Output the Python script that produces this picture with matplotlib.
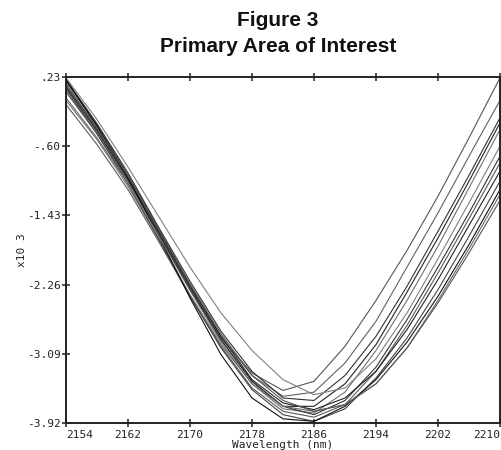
import matplotlib
matplotlib.use("Agg")
import matplotlib.pyplot as plt

wavelength = [2154, 2158, 2162, 2166, 2170, 2174, 2178, 2182, 2186, 2190, 2194, 2198, 2202, 2206, 2210]

curve_a = [0.05, -0.45, -1.02, -1.65, -2.30, -2.90, -3.32, -3.53, -3.42, -3.00, -2.45, -1.85, -1.20, -0.50, 0.22]
curve_b = [0.15, -0.38, -0.97, -1.62, -2.28, -2.88, -3.35, -3.60, -3.55, -3.20, -2.70, -2.05, -1.40, -0.72, -0.05]
curve_c = [0.20, -0.33, -0.92, -1.58, -2.22, -2.82, -3.30, -3.62, -3.65, -3.35, -2.88, -2.28, -1.62, -0.95, -0.26]
curve_d = [0.10, -0.42, -1.00, -1.66, -2.32, -2.92, -3.42, -3.72, -3.72, -3.45, -2.98, -2.35, -1.70, -1.02, -0.32]
curve_e = [-0.05, -0.52, -1.08, -1.72, -2.38, -2.98, -3.45, -3.75, -3.80, -3.55, -3.05, -2.45, -1.80, -1.10, -0.40]
curve_f = [0.22, -0.28, -0.85, -1.45, -2.05, -2.60, -3.05, -3.40, -3.58, -3.50, -3.15, -2.60, -1.95, -1.28, -0.60]
curve_g = [0.12, -0.40, -0.98, -1.63, -2.30, -2.92, -3.42, -3.72, -3.82, -3.65, -3.25, -2.68, -2.05, -1.40, -0.72]
curve_h = [-0.10, -0.58, -1.12, -1.75, -2.40, -3.00, -3.50, -3.78, -3.85, -3.70, -3.30, -2.75, -2.12, -1.47, -0.80]
curve_i = [0.18, -0.35, -0.95, -1.60, -2.27, -2.88, -3.40, -3.68, -3.76, -3.62, -3.30, -2.80, -2.20, -1.55, -0.90]
curve_j = [0.08, -0.45, -1.05, -1.72, -2.40, -3.02, -3.52, -3.82, -3.90, -3.75, -3.38, -2.90, -2.32, -1.68, -1.02]
curve_k = [0.20, -0.36, -0.98, -1.68, -2.42, -3.10, -3.62, -3.87, -3.90, -3.72, -3.40, -2.95, -2.40, -1.78, -1.12]
curve_l = [-0.02, -0.50, -1.05, -1.68, -2.33, -2.95, -3.45, -3.72, -3.78, -3.70, -3.45, -3.02, -2.45, -1.83, -1.18]
curve_m = [0.14, -0.38, -0.96, -1.60, -2.25, -2.85, -3.35, -3.65, -3.78, -3.70, -3.45, -3.02, -2.48, -1.88, -1.25]

curves = [curve_a, curve_b, curve_c, curve_d, curve_e, curve_f, curve_g,
          curve_h, curve_i, curve_j, curve_k, curve_l, curve_m]
line_colors = ["#555555", "#606060", "#333333", "#222222", "#707070", "#808080", "#333333",
               "#5a5a5a", "#222222", "#444444", "#111111", "#6a6a6a", "#555555"]

x_ticks = [2154, 2162, 2170, 2178, 2186, 2194, 2202, 2210]
x_tick_labels = ["2154", "2162", "2170", "2178", "2186", "2194", "2202", "2210"]
y_ticks = [0.23, -0.60, -1.43, -2.26, -3.09, -3.92]
y_tick_labels = [".23", "-.60", "-1.43", "-2.26", "-3.09", "-3.92"]

fig = plt.figure(figsize=(5.01, 4.5), dpi=100)
ax = fig.add_axes([66 / 501, 1 - 423 / 450, 434 / 501, 346 / 450])

for ys, c in zip(curves, line_colors):
    ax.plot(wavelength, ys, color=c, lw=0.8)

ax.set_xlim(2154, 2210)
ax.set_ylim(-3.92, 0.23)

mono = "DejaVu Sans Mono"
ax.set_xticks(x_ticks)
ax.set_xticklabels(x_tick_labels, family=mono, fontsize=8, color="#222222")
labs = ax.get_xticklabels()
labs[0].set_ha("left")
labs[-1].set_ha("right")
ax.set_yticks(y_ticks)
ax.set_yticklabels(y_tick_labels, family=mono, fontsize=8, color="#222222")

ax.tick_params(direction="inout", length=6, width=1.1, color="#222222", pad=1,
               top=True, right=False)
ax.tick_params(axis="x", pad=2)
for s in ax.spines.values():
    s.set_linewidth(1.4)
    s.set_color("#222222")

ax.set_xlabel("Wavelength (nm)", family=mono, fontsize=8, color="#222222", labelpad=0)
ax.set_ylabel("x10 3", family=mono, fontsize=8, color="#222222", labelpad=0)

fig.text(278 / 501, 1 - 20 / 450, "Figure 3", ha="center", va="center",
         family="Liberation Sans", fontweight="bold", fontsize=15, color="#111111")
fig.text(278 / 501, 1 - 47 / 450, "Primary Area of Interest", ha="center", va="center",
         family="Liberation Sans", fontweight="bold", fontsize=15, color="#111111")

fig.savefig("out.png", dpi=100)
